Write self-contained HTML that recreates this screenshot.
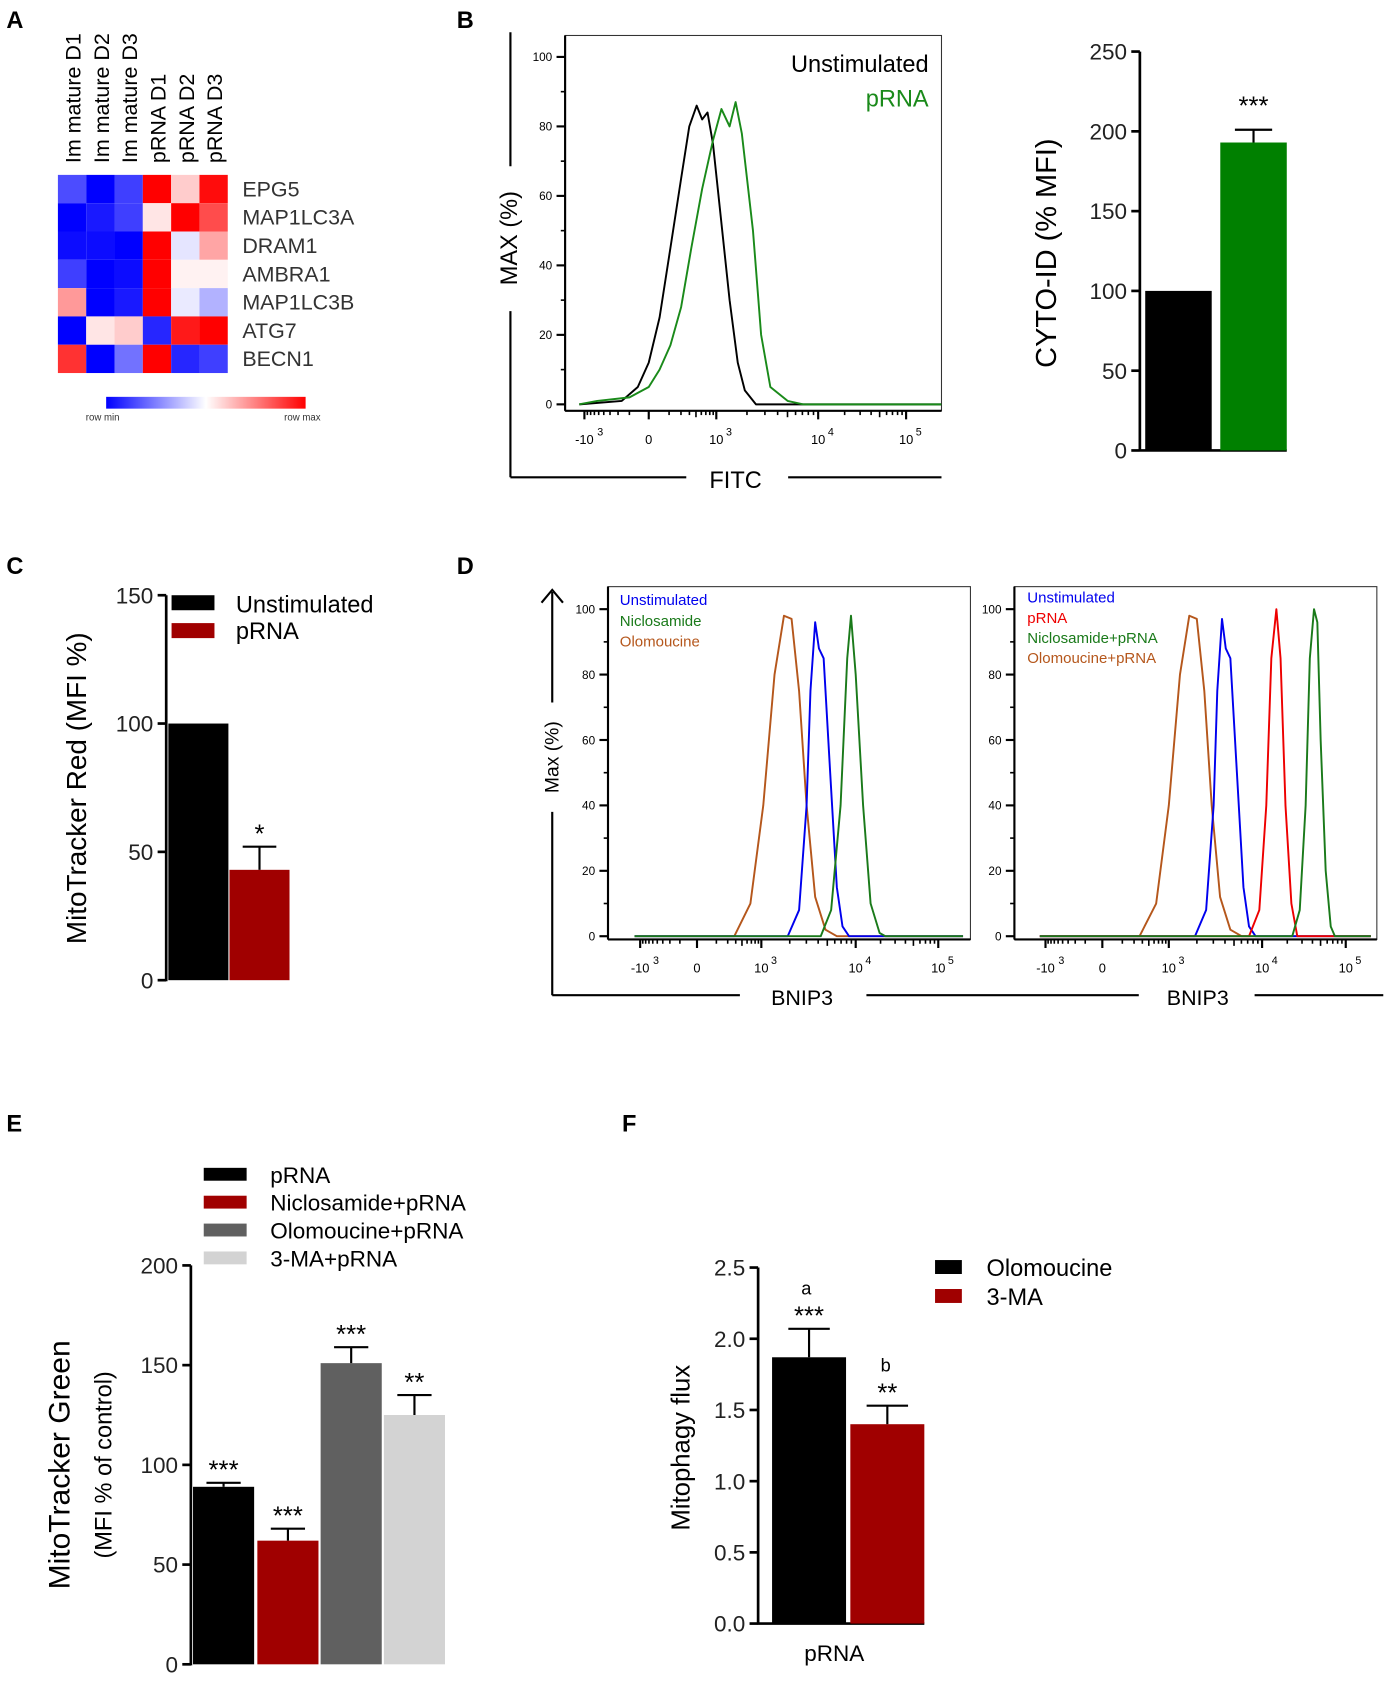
<!DOCTYPE html>
<html><head><meta charset="utf-8"><style>
html,body{margin:0;padding:0;background:#fff}
svg{display:block;font-family:"Liberation Sans",sans-serif}
</style></head><body>
<svg id="fig" width="1394" height="1688" viewBox="0 0 1300 1574" xmlns="http://www.w3.org/2000/svg">
<g font-weight="bold" font-size="22">
<text x="6" y="26">A</text>
<text x="426" y="26">B</text>
<text x="6" y="535">C</text>
<text x="426" y="535">D</text>
<text x="6" y="1055">E</text>
<text x="580" y="1055">F</text>
</g>
<g id="gA"></g>
<g id="gB"></g>
<g id="gB2"></g>
<g id="gC"></g>
<g id="gD"></g>
<g id="gE"></g>
<g id="gF"></g>
</svg>
<script>
// ---- data ----
const hmCols = ["Im mature D1","Im mature D2","Im mature D3","pRNA D1","pRNA D2","pRNA D3"];
const hmRows = ["EPG5","MAP1LC3A","DRAM1","AMBRA1","MAP1LC3B","ATG7","BECN1"];
const hmEPG5 = [-0.7,-1,-0.75,1,0.2,0.95];
const hmMAP1LC3A = [-1,-0.9,-0.75,0.1,1,0.7];
const hmDRAM1 = [-0.95,-0.95,-1,1,-0.1,0.35];
const hmAMBRA1 = [-0.75,-1,-0.95,1,0.05,0.05];
const hmMAP1LC3B = [0.4,-1,-0.9,1,-0.08,-0.3];
const hmATG7 = [-1,0.1,0.2,-0.85,0.9,1];
const hmBECN1 = [0.8,-1,-0.55,1,-0.85,-0.75];
const hmValues = [hmEPG5,hmMAP1LC3A,hmDRAM1,hmAMBRA1,hmMAP1LC3B,hmATG7,hmBECN1];

const histYTicks = [0,20,40,60,80,100];
const histXTickLabels = ["-10","0","10","10","10"];
const histXTickExp = ["3","","3","4","5"];
const histXTickPos = [-1,0,1,2,3];
const bUnstim = [[-1.08,0],[-0.42,1],[-0.17,5],[0,12],[0.16,25],[0.32,45],[0.48,65],[0.6,80],[0.71,86],[0.79,82],[0.87,84],[0.95,75],[1.04,55],[1.13,30],[1.21,12],[1.28,4],[1.39,0],[3.4,0]];
const bPRNA = [[-1.08,0],[-0.8,1],[-0.3,2],[0,5],[0.16,10],[0.32,17],[0.48,28],[0.63,45],[0.79,62],[0.95,76],[1.05,85],[1.13,80],[1.19,87],[1.25,78],[1.36,50],[1.44,20],[1.53,5],[1.7,1],[1.85,0],[3.4,0]];

const cytoCats = ["Unstimulated","pRNA"];
const cytoVals = [100,193];
const cytoErr = [0,201];
const cytoTicks = [0,50,100,150,200,250];

const mtrCats = ["Unstimulated","pRNA"];
const mtrVals = [100,43];
const mtrErr = [0,52];
const mtrTicks = [0,50,100,150];

const dOlo = [[-1.1,0],[0.58,0],[0.83,10],[1.02,40],[1.14,80],[1.24,98],[1.32,97],[1.4,75],[1.48,40],[1.57,12],[1.68,2],[1.8,0],[3.3,0]];
const dUnst = [[-1.1,0],[1.28,0],[1.4,8],[1.48,40],[1.52,75],[1.57,96],[1.61,88],[1.66,85],[1.73,50],[1.8,15],[1.86,3],[1.93,0],[3.3,0]];
const dNic = [[-1.1,0],[1.63,0],[1.74,8],[1.84,40],[1.91,85],[1.95,98],[2.0,80],[2.09,40],[2.18,10],[2.29,1],[2.36,0],[3.3,0]];
const d2Olo = [[-1.1,0],[0.56,0],[0.81,10],[1.0,40],[1.12,80],[1.22,98],[1.3,97],[1.38,75],[1.46,40],[1.55,12],[1.66,2],[1.78,0],[3.3,0]];
const d2Unst = [[-1.1,0],[1.28,0],[1.4,8],[1.48,40],[1.52,75],[1.57,97],[1.61,88],[1.66,85],[1.73,50],[1.8,15],[1.86,3],[1.93,0],[3.3,0]];
const d2PRNA = [[-1.1,0],[1.86,0],[1.97,8],[2.05,40],[2.11,85],[2.17,100],[2.22,85],[2.28,40],[2.35,10],[2.42,0],[3.3,0]];
const d2NicP = [[-1.1,0],[2.36,0],[2.45,8],[2.52,40],[2.57,85],[2.62,100],[2.66,96],[2.7,60],[2.76,20],[2.82,3],[2.87,0],[3.3,0]];

const mtgCats = ["pRNA","Niclosamide+pRNA","Olomoucine+pRNA","3-MA+pRNA"];
const mtgVals = [89,62,151,125];
const mtgErr = [91,68,159,135];
const mtgStars = ["***","***","***","**"];
const mtgTicks = [0,50,100,150,200];

const fluxCats = ["Olomoucine","3-MA"];
const fluxVals = [1.87,1.40];
const fluxErr = [2.07,1.53];
const fluxLetters = ["a","b"];
const fluxStars = ["***","**"];
const fluxTicks = [0,0.5,1.0,1.5,2.0,2.5];

// ---- helpers ----
const NS="http://www.w3.org/2000/svg";
function mk(parent,tag,attrs,txt){const e=document.createElementNS(NS,tag);for(const k in attrs)e.setAttribute(k,attrs[k]);if(txt!==undefined)e.textContent=txt;parent.appendChild(e);return e;}
function line(p,x1,y1,x2,y2,w,c){return mk(p,"line",{x1,y1,x2,y2,stroke:c||"#000","stroke-width":w||2});}

// ---- A heatmap ----
(function(){
const g=document.getElementById("gA");
const x0=54,y0=163,cw=26.4,ch=26.4;
function col(v){let r,gg,b;if(v<0){const t=-v;r=255*(1-t);gg=255*(1-t);b=255;}else{r=255;gg=255*(1-v);b=255*(1-v);}return `rgb(${r|0},${gg|0},${b|0})`;}
hmValues.forEach((row,i)=>{row.forEach((v,j)=>{
 const r=mk(g,"rect",{x:x0+j*cw,y:y0+i*ch,width:cw,height:ch,fill:col(v)});
 
 
});
 const t=mk(g,"text",{x:226,y:y0+i*ch+20,"font-size":20,fill:"#333"},hmRows[i]);
 
 
});
hmCols.forEach((c,j)=>{const cx=x0+j*cw+cw/2+8;
 const t=mk(g,"text",{x:cx,y:152,"font-size":20,transform:`rotate(-90 ${cx} 152)`},c);
 
 
});
const defs=mk(g,"defs",{});const lg=mk(defs,"linearGradient",{id:"hmg"});
mk(lg,"stop",{offset:"0",["stop-color"]:"#0000ff"});mk(lg,"stop",{offset:"0.5",["stop-color"]:"#ffffff"});mk(lg,"stop",{offset:"1",["stop-color"]:"#ff0000"});
const cb=mk(g,"rect",{x:99,y:370,width:186,height:11,fill:"url(#hmg)"});


mk(g,"text",{x:80,y:392,"font-size":9,fill:"#333"},"row min");
mk(g,"text",{x:265,y:392,"font-size":9,fill:"#333"},"row max");
})();

// ---- histogram helper ----
function histo(g,fx,fy,frame,seriesList,xpx){
 const X=u=>{if(u<=0)return xpx[0]+(u+1)*(xpx[1]-xpx[0]);if(u<=1)return xpx[1]+u*(xpx[2]-xpx[1]);if(u<=2)return xpx[2]+(u-1)*(xpx[3]-xpx[2]);return xpx[3]+(u-2)*(xpx[4]-xpx[3]);};
 const Y=v=>fy.y0+(fy.y100-fy.y0)*v/100;
 mk(g,"rect",{x:frame.x,y:frame.y,width:frame.w,height:frame.h,fill:"none",stroke:"#333","stroke-width":1});
 line(g,frame.x,frame.y,frame.x,frame.y+frame.h,2);
 line(g,frame.x,frame.y+frame.h,frame.x+frame.w,frame.y+frame.h,2);
 histYTicks.forEach(v=>{line(g,frame.x-8,Y(v),frame.x,Y(v),2);
  if(v<100)line(g,frame.x-4,Y(v+10),frame.x,Y(v+10),1.5);
  mk(g,"text",{x:frame.x-12,y:Y(v)+4,"font-size":11,"text-anchor":"end"},String(v));});
 histXTickPos.forEach((u,i)=>{const px=X(u);line(g,px,frame.y+frame.h,px,frame.y+frame.h+8,2);
  mk(g,"text",{x:px,y:frame.y+frame.h+31,"font-size":12,"text-anchor":"middle"},histXTickLabels[i]);
  if(histXTickExp[i])mk(g,"text",{x:px+(i==0?12:9),y:frame.y+frame.h+23,"font-size":10},histXTickExp[i]);});
 for(let d=0;d<3;d++)for(let k=2;k<10;k++){const u=d+Math.log10(k);const px=X(u);line(g,px,frame.y+frame.h,px,frame.y+frame.h+(k==5?6:4),1.5);}
 for(let k=2;k<10;k++){const px=X(-Math.log10(k));line(g,px,frame.y+frame.h,px,frame.y+frame.h+4,1.5);}
 seriesList.forEach(s=>{
  const p=mk(g,"path",{d:s.data.map((pt,i)=>(i?"L":"M")+X(pt[0]).toFixed(1)+","+Y(pt[1]).toFixed(1)).join(""),fill:"none",stroke:s.color,"stroke-width":1.8,"stroke-linejoin":"round"});
  
  
 });
}

// ---- B histogram ----
(function(){
const g=document.getElementById("gB");
histo(g,null,{y0:377,y100:53},{x:527,y:33,w:351,h:350},[{data:bUnstim,color:"#000",name:"unstimulated-curve"},{data:bPRNA,color:"#1a8a1a",name:"prna-curve"}],[545,605,668,763,845]);
line(g,476,30,476,155,2);line(g,476,290,476,445,2);
line(g,476,445,640,445,2);line(g,735,445,878,445,2);
mk(g,"text",{x:686,y:455,"font-size":22,"text-anchor":"middle"},"FITC");
mk(g,"text",{x:482,y:222,"font-size":22,"text-anchor":"middle",transform:"rotate(-90 482 222)"},"MAX (%)");
mk(g,"text",{x:866,y:67,"font-size":22,"text-anchor":"end"},"Unstimulated");
mk(g,"text",{x:866,y:99,"font-size":22,"text-anchor":"end",fill:"#1a8a1a"},"pRNA");
})();

// ---- bar chart helper ----
function barChart(g,o){
 const Y=v=>o.y0+(o.yTop-o.y0)*(v-o.min)/(o.max-o.min);
 line(g,o.ax,Y(o.max),o.ax,Y(o.min)+1,2.5);
 if(o.base)line(g,o.ax,Y(o.min),o.baseEnd,Y(o.min),2.5);
 o.ticks.forEach(v=>{line(g,o.ax-8,Y(v),o.ax,Y(v),2.5);
  mk(g,"text",{x:o.ax-12,y:Y(v)+o.fs*0.36,"font-size":o.fs,"text-anchor":"end",fill:"#222"},o.fmt?o.fmt(v):String(v));});
 o.vals.forEach((v,i)=>{const x=o.bx[i];
  const r=mk(g,"rect",{x:x,y:Y(v),width:o.bw,height:Y(o.min)-Y(v),fill:o.colors[i]});
  
  
  if(o.err[i]>v){const cx=x+o.bw/2;line(g,cx,Y(v),cx,Y(o.err[i]),2);line(g,cx-o.bw*0.28,Y(o.err[i]),cx+o.bw*0.28,Y(o.err[i]),2);}
  if(o.stars&&o.stars[i]){mk(g,"text",{x:x+o.bw/2,y:Y(Math.max(o.err[i],v))-o.starGap,"font-size":24,"text-anchor":"middle"},o.stars[i]);}
 });
 return Y;
}

// ---- B bar ----
(function(){
const g=document.getElementById("gB2");
barChart(g,{ax:1063,y0:420,yTop:48,min:0,max:250,ticks:cytoTicks,fs:21,vals:cytoVals,err:cytoErr,cats:cytoCats,bx:[1068,1138],bw:62,colors:["#000","#008000"],base:true,baseEnd:1200,stars:["","***"],starGap:14});
mk(g,"text",{x:985,y:236,"font-size":27,"text-anchor":"middle",transform:"rotate(-90 985 236)"},"CYTO-ID (% MFI)");
})();

// ---- C ----
(function(){
const g=document.getElementById("gC");
barChart(g,{ax:155,y0:914,yTop:555,min:0,max:150,ticks:mtrTicks,fs:21,vals:mtrVals,err:mtrErr,cats:mtrCats,bx:[157,214],bw:56,colors:["#000","#a00000"],base:false,stars:["","*"],starGap:4});
mk(g,"rect",{x:160,y:555,width:40,height:14,fill:"#000"});
mk(g,"text",{x:220,y:571,"font-size":22},"Unstimulated");
mk(g,"rect",{x:160,y:581,width:40,height:14,fill:"#a00000"});
mk(g,"text",{x:220,y:596,"font-size":22},"pRNA");
mk(g,"text",{x:80,y:735,"font-size":26,"text-anchor":"middle",transform:"rotate(-90 80 735)"},"MitoTracker Red (MFI %)");
})();

// ---- D ----
(function(){
const g=document.getElementById("gD");
const gl=mk(g,"g",{});
histo(gl,null,{y0:873,y100:568},{x:567,y:547,w:338,h:329},[{data:dOlo,color:"#b5571c",name:"olomoucine-curve"},{data:dUnst,color:"#0000ee",name:"unstimulated-curve"},{data:dNic,color:"#1a7a1a",name:"niclosamide-curve"}],[597,650,710,798,875]);
const gr=mk(g,"g",{});
histo(gr,null,{y0:873,y100:568},{x:946,y:547,w:338,h:329},[{data:d2Olo,color:"#b5571c",name:"olomoucine-prna-curve"},{data:d2Unst,color:"#0000ee",name:"unstimulated-curve"},{data:d2PRNA,color:"#ee0000",name:"prna-curve"},{data:d2NicP,color:"#1a7a1a",name:"niclosamide-prna-curve"}],[975,1028,1090,1177,1255]);
const lt=[["Unstimulated","#0000ee"],["Niclosamide","#1a7a1a"],["Olomoucine","#b5571c"]];
lt.forEach((l,i)=>mk(g,"text",{x:578,y:564+i*19.5,"font-size":14,fill:l[1]},l[0]));
const rt=[["Unstimulated","#0000ee"],["pRNA","#ee0000"],["Niclosamide+pRNA","#1a7a1a"],["Olomoucine+pRNA","#b5571c"]];
rt.forEach((l,i)=>mk(g,"text",{x:958,y:562+i*18.8,"font-size":14,fill:l[1]},l[0]));
line(g,515,552,515,655,2);line(g,515,757,515,928,2);
mk(g,"path",{d:"M505,562 L515,550 L525,562",fill:"none",stroke:"#000","stroke-width":2});
mk(g,"text",{x:521,y:706,"font-size":18,"text-anchor":"middle",transform:"rotate(-90 521 706)"},"Max (%)");
line(g,515,928,690,928,2);line(g,808,928,1062,928,2);line(g,1170,928,1290,928,2);
mk(g,"text",{x:748,y:937,"font-size":20,"text-anchor":"middle"},"BNIP3");
mk(g,"text",{x:1117,y:937,"font-size":20,"text-anchor":"middle"},"BNIP3");
})();

// ---- E ----
(function(){
const g=document.getElementById("gE");
barChart(g,{ax:178,y0:1552,yTop:1180,min:0,max:200,ticks:mtgTicks,fs:21,vals:mtgVals,err:mtgErr,cats:mtgCats,bx:[180,240,299,358],bw:57,colors:["#000","#a00000","#606060","#d3d3d3"],base:false,stars:mtgStars,starGap:4});
const cols=["#000","#a00000","#606060","#d3d3d3"];
mtgCats.forEach((c,i)=>{mk(g,"rect",{x:190,y:1089+i*26,width:40,height:12,fill:cols[i]});
 mk(g,"text",{x:252,y:1103+i*26,"font-size":21},c);});
mk(g,"text",{x:65,y:1366,"font-size":28,"text-anchor":"middle",transform:"rotate(-90 65 1366)"},"MitoTracker Green");
mk(g,"text",{x:104,y:1366,"font-size":22,"text-anchor":"middle",transform:"rotate(-90 104 1366)"},"(MFI % of control)");
})();

// ---- F ----
(function(){
const g=document.getElementById("gF");
const Y=barChart(g,{ax:707,y0:1514,yTop:1182,min:0,max:2.5,ticks:fluxTicks,fs:21,vals:fluxVals,err:fluxErr,cats:fluxCats,bx:[720,793],bw:69,colors:["#000","#a00000"],base:true,baseEnd:862,fmt:v=>v.toFixed(1),stars:fluxStars,starGap:4});
fluxLetters.forEach((l,i)=>mk(g,"text",{x:[752,826][i],y:Y(fluxErr[i])-32,"font-size":17,"text-anchor":"middle"},l));
mk(g,"text",{x:778,y:1549,"font-size":21,"text-anchor":"middle"},"pRNA");
mk(g,"rect",{x:872,y:1175,width:25,height:13,fill:"#000"});
mk(g,"text",{x:920,y:1190,"font-size":22},"Olomoucine");
mk(g,"rect",{x:872,y:1202,width:25,height:13,fill:"#a00000"});
mk(g,"text",{x:920,y:1217,"font-size":22},"3-MA");
mk(g,"text",{x:643,y:1350,"font-size":24,"text-anchor":"middle",transform:"rotate(-90 643 1350)"},"Mitophagy flux");
})();
</script>
</body></html>
